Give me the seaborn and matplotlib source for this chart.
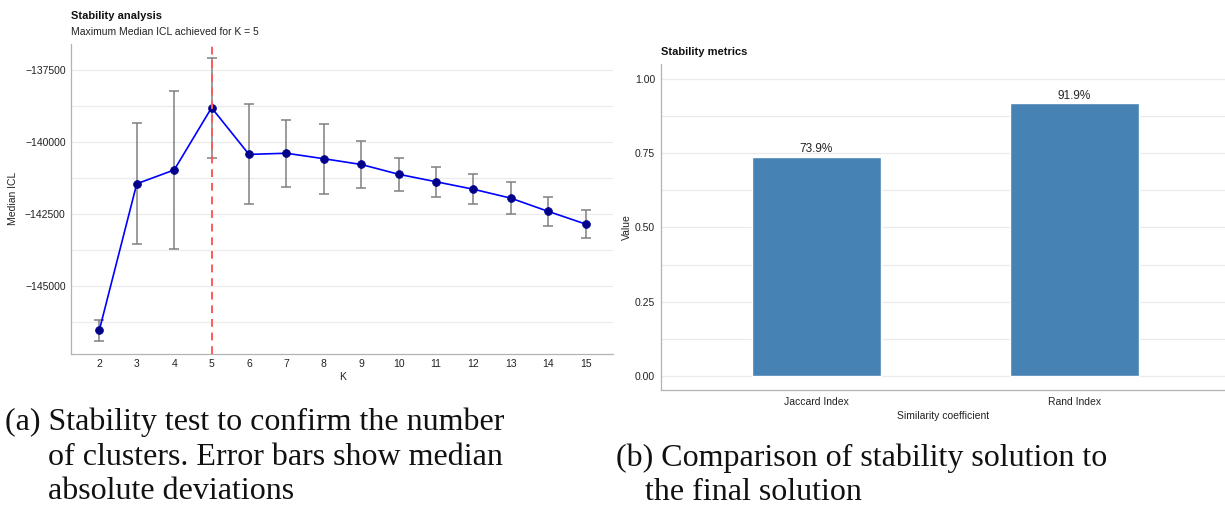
import numpy as np
import pandas as pd
import matplotlib
matplotlib.use("Agg")
import matplotlib.pyplot as plt
from matplotlib.ticker import FixedLocator, FuncFormatter
import seaborn as sns

# ---- data ----
k_values = [2, 3, 4, 5, 6, 7, 8, 9, 10, 11, 12, 13, 14, 15]
median_icl = [-146530, -141450, -140970, -138810, -140430, -140390, -140580,
              -140780, -141120, -141380, -141640, -141950, -142410, -142850]
mad_icl = [365, 2095, 2730, 1735, 1735, 1155, 1220, 820, 565, 525, 515, 550, 515, 485]
best_k = 5

metric_names = ["Jaccard Index", "Rand Index"]
metric_values = [0.739, 0.919]
metric_labels = ["73.9%", "91.9%"]

left_yticks = [-145000, -142500, -140000, -137500]
right_yticks = [0.00, 0.25, 0.50, 0.75, 1.00]

sns.set_theme(style="white")
plt.rcParams['font.family'] = ['Liberation Sans', 'DejaVu Sans']
plt.rcParams['axes.unicode_minus'] = True

fig = plt.figure(figsize=(12.25, 5.07), dpi=100)
grid_c = "#ebebeb"
axis_c = "#b3b3b3"
txt_c = "#222222"
fs = 7.5

# ---------- left panel ----------
ax1 = fig.add_axes([0.0582, 0.3024, 0.4422, 0.6108])
df1 = pd.DataFrame({"K": k_values, "ICL": median_icl, "MAD": mad_icl})
ax1.errorbar(df1["K"], df1["ICL"], yerr=df1["MAD"], fmt="none", ecolor="#808080",
             elinewidth=1.1, capsize=3.5, capthick=1.1, zorder=3)
sns.lineplot(data=df1, x="K", y="ICL", ax=ax1, color="#0000ff", lw=1.2, zorder=4)
sns.scatterplot(data=df1, x="K", y="ICL", ax=ax1, color="#00008b", s=32,
                edgecolor="#00008b", linewidth=0.5, zorder=5)
ax1.axvline(best_k, color="#ff5a5a", ls=(0, (4, 3)), lw=1.4, zorder=6)
ax1.set_xlim(1.25, 15.73)
ax1.set_ylim(-147350, -136597)
ax1.xaxis.set_major_locator(FixedLocator(k_values))
ax1.yaxis.set_major_locator(FixedLocator(left_yticks))
ax1.yaxis.set_minor_locator(FixedLocator([-146250, -143750, -141250, -138750, -136250]))
ax1.yaxis.set_major_formatter(FuncFormatter(lambda v, p: f"{int(v)}".replace("-", "\u2212")))
ax1.grid(axis="y", which="both", color=grid_c, lw=0.9)
ax1.set_axisbelow(True)
for s in ["top", "right"]:
    ax1.spines[s].set_visible(False)
for s in ["left", "bottom"]:
    ax1.spines[s].set_color(axis_c)
    ax1.spines[s].set_linewidth(0.9)
ax1.tick_params(axis="both", which="major", labelsize=fs, colors=txt_c, length=0, pad=4)
ax1.tick_params(axis="y", which="minor", length=0)
ax1.set_xlabel("K", fontsize=fs, color=txt_c, labelpad=2)
ax1.set_ylabel("Median ICL", fontsize=fs, color=txt_c, labelpad=5)
ax1.text(0.0, 1.08, "Stability analysis", transform=ax1.transAxes, fontsize=8,
         fontweight="bold", color="#111111", ha="left", va="baseline")
ax1.text(0.0, 1.028, "Maximum Median ICL achieved for K = 5", transform=ax1.transAxes,
         fontsize=fs, color=txt_c, ha="left", va="baseline")

# ---------- right panel ----------
ax2 = fig.add_axes([0.5399, 0.2302, 0.4601, 0.643])
df2 = pd.DataFrame({"metric": metric_names, "value": metric_values})
sns.barplot(data=df2, x="metric", y="value", ax=ax2, color="#4682b4", width=0.5,
            saturation=1, zorder=3)
for i, (v, lab) in enumerate(zip(metric_values, metric_labels)):
    ax2.text(i, v + 0.004, lab, ha="center", va="bottom", fontsize=8.5, color=txt_c)
ax2.set_xlim(-0.6, 1.585)
ax2.set_ylim(-0.049, 1.05)
ax2.yaxis.set_major_locator(FixedLocator(right_yticks))
ax2.yaxis.set_minor_locator(FixedLocator([0.125, 0.375, 0.625, 0.875]))
ax2.yaxis.set_major_formatter(FuncFormatter(lambda v, p: f"{v:.2f}"))
ax2.grid(axis="y", which="both", color=grid_c, lw=0.9)
ax2.set_axisbelow(True)
for s in ["top", "right"]:
    ax2.spines[s].set_visible(False)
for s in ["left", "bottom"]:
    ax2.spines[s].set_color(axis_c)
    ax2.spines[s].set_linewidth(0.9)
ax2.tick_params(axis="both", which="major", labelsize=fs, colors=txt_c, length=3,
                width=0.8, pad=1.5)
ax2.tick_params(axis="both", which="major", color="#555555")
ax2.tick_params(axis="y", which="minor", length=0)
ax2.set_xlabel("Similarity coefficient", fontsize=fs, color=txt_c, labelpad=3)
ax2.set_ylabel("Value", fontsize=fs, color=txt_c, labelpad=2)
ax2.text(0.0, 1.03, "Stability metrics", transform=ax2.transAxes, fontsize=8,
         fontweight="bold", color="#111111", ha="left", va="baseline")

# ---------- captions ----------
cap_fs = 23
serif = ["Liberation Serif", "DejaVu Serif"]
fig.text(5 / 1225, 1 - 430 / 507, "(a) Stability test to confirm the number",
         fontsize=cap_fs, family=serif, color="#111111", va="baseline")
fig.text(48 / 1225, 1 - 465 / 507, "of clusters. Error bars show median",
         fontsize=cap_fs, family=serif, color="#111111", va="baseline")
fig.text(48 / 1225, 1 - 499 / 507, "absolute deviations",
         fontsize=cap_fs, family=serif, color="#111111", va="baseline")
fig.text(616 / 1225, 1 - 466 / 507, "(b) Comparison of stability solution to",
         fontsize=cap_fs, family=serif, color="#111111", va="baseline")
fig.text(645 / 1225, 1 - 500 / 507, "the final solution",
         fontsize=cap_fs, family=serif, color="#111111", va="baseline")

fig.savefig("out.png", dpi=100)
